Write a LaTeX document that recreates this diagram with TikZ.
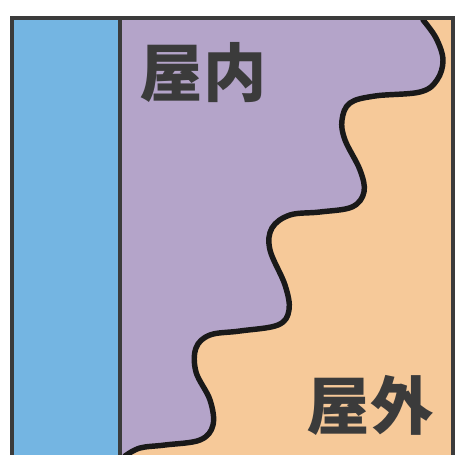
\documentclass[tikz,border=0pt]{standalone}
\usepackage{fontspec}
\usepackage{tikz}
\newfontfamily\cjk{Noto Sans CJK JP}
\definecolor{wallblue}{HTML}{74B5E2}
\definecolor{roomviolet}{HTML}{B4A4C9}
\definecolor{yardorange}{HTML}{F6C999}
\definecolor{framegray}{HTML}{3B3B3B}
\tikzset{
    label text/.style={font=\cjk\bfseries\fontsize{36}{36}\selectfont, text=framegray, inner sep=0pt},
    frame line/.style={draw=framegray, line width=2.4pt},
    wall line/.style={draw=framegray, line width=1.9pt},
    wave line/.style={draw=black!90, line width=3.1pt, line join=round, line cap=round}
}
\begin{document}
\begin{tikzpicture}[x=0.02cm, y=-0.02cm]
    \useasboundingbox [fill=white] (0,0) rectangle (463,455);
    \clip (0,0) rectangle (463,455);

    % outside area, wall strip and room
    \fill [yardorange] (120,18) rectangle (453,470);
    \fill [wallblue] (12,18) rectangle (120,470);
    \fill [roomviolet] (120,18) -- (423,18)
        -- plot [smooth, tension=0.6] coordinates {(423,20) (436,38) (443,60) (437,80) (420,92) (375,96) (350,103) (342,120) (345,140) (360,170) (364,192) (352,207) (320,212) (290,215) (272,228) (270,250) (285,285) (289,310) (278,325) (240,331) (210,335) (196,348) (196,372) (210,400) (213,425) (200,440) (165,445) (140,448) (125,456)}
        -- (120,470) -- cycle;

    % border between inside and outside
    \draw [wave line] plot [smooth, tension=0.6] coordinates {(423,20) (436,38) (443,60) (437,80) (420,92) (375,96) (350,103) (342,120) (345,140) (360,170) (364,192) (352,207) (320,212) (290,215) (272,228) (270,250) (285,285) (289,310) (278,325) (240,331) (210,335) (196,348) (196,372) (210,400) (213,425) (200,440) (165,445) (140,448) (125,456)};

    \draw [wall line] (120,18) -- (120,470);
    \draw [frame line] (12,470) -- (12,18) -- (453,18) -- (453,470);

    \node (indoor) [label text] at (203,73) {屋内};
    \node (outdoor) [label text] at (370,405) {屋外};
\end{tikzpicture}
\end{document}
